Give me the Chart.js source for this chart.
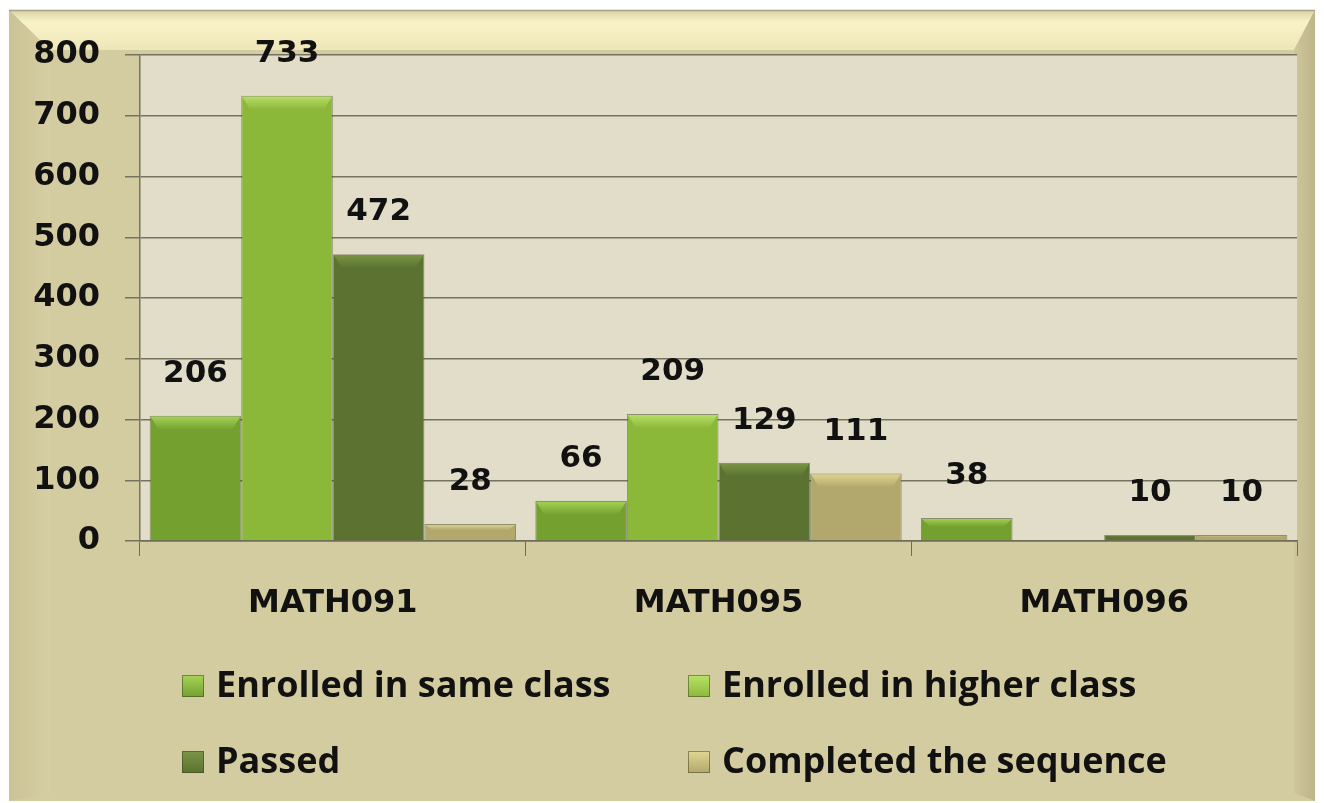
<!DOCTYPE html>
<html>
<head>
<meta charset="utf-8">
<script src="https://cdn.jsdelivr.net/npm/chart.js@4"></script>
<style>
  html, body { margin: 0; padding: 0; background: #ffffff; }
  #wrap { width: 1324px; height: 803px; position: relative; }
</style>
</head>
<body>
<div id="wrap"><canvas id="mathChart" width="1324" height="803"></canvas></div>
<script>
// chart data
const courses = ['MATH091', 'MATH095', 'MATH096'];
const sameClass = [206, 66, 38];
const higherClass = [733, 209, null];
const passed = [472, 129, 10];
const completed = [28, 111, 10];
const yTicks = [0, 100, 200, 300, 400, 500, 600, 700, 800];

const seriesNames = ['Enrolled in same class', 'Enrolled in higher class', 'Passed', 'Completed the sequence'];
const seriesColors = ['#74a030', '#8cb83a', '#5b7230', '#b2a76c'];
const seriesLight = ['#a6d456', '#b8e268', '#7a9646', '#e2d692'];

const NUM_FONT = '"DejaVu Sans", Verdana, sans-serif';
const LEGEND_FONT = '"Open Sans", Lato, sans-serif';

// frame + plot background
const backgroundPlugin = {
    id: 'frameBackground',
    beforeDraw(chart) {
        const ctx = chart.ctx;
        const W = chart.width, H = chart.height;
        const a = chart.chartArea;
        ctx.save();
        ctx.fillStyle = '#ffffff';
        ctx.fillRect(0, 0, W, H);
        // outer frame
        ctx.fillStyle = '#d4cca1';
        ctx.fillRect(9, 10, W - 18, H - 12);
        // top bevel
        let g = ctx.createLinearGradient(0, 10, 0, 50);
        g.addColorStop(0, '#d8d1a8');
        g.addColorStop(0.3, '#f9f3c8');
        g.addColorStop(1, '#ede6b8');
        ctx.fillStyle = g;
        ctx.beginPath();
        ctx.moveTo(9, 10); ctx.lineTo(W - 9, 10); ctx.lineTo(W - 30, 50); ctx.lineTo(50, 50);
        ctx.closePath(); ctx.fill();
        // left bevel
        g = ctx.createLinearGradient(9, 0, 50, 0);
        g.addColorStop(0, '#cbc295');
        g.addColorStop(1, '#d6cea4');
        ctx.fillStyle = g;
        ctx.beginPath();
        ctx.moveTo(9, 10); ctx.lineTo(50, 50); ctx.lineTo(50, H - 10); ctx.lineTo(9, H - 2);
        ctx.closePath(); ctx.fill();
        // right bevel
        g = ctx.createLinearGradient(W - 30, 0, W - 9, 0);
        g.addColorStop(0, '#cfc79c');
        g.addColorStop(1, '#bdb488');
        ctx.fillStyle = g;
        ctx.beginPath();
        ctx.moveTo(W - 9, 10); ctx.lineTo(W - 9, H - 2); ctx.lineTo(W - 30, H - 10); ctx.lineTo(W - 30, 50);
        ctx.closePath(); ctx.fill();
        // top line
        ctx.strokeStyle = '#a9a27e';
        ctx.lineWidth = 1.5;
        ctx.beginPath(); ctx.moveTo(9, 10.5); ctx.lineTo(W - 9, 10.5); ctx.stroke();
        // plot area
        ctx.fillStyle = '#e1ddc8';
        ctx.fillRect(a.left, a.top, a.right - a.left, a.bottom - a.top);
        ctx.restore();
    }
};

// bevel highlight on bars + value labels
const barDecorPlugin = {
    id: 'barDecor',
    afterDatasetsDraw(chart) {
        const ctx = chart.ctx;
        ctx.save();
        chart.data.datasets.forEach((ds, i) => {
            const meta = chart.getDatasetMeta(i);
            meta.data.forEach((bar, j) => {
                const v = ds.data[j];
                if (v === null || v === undefined) return;
                const half = bar.width / 2;
                const h = bar.base - bar.y;
                const band = Math.min(14, h * 0.4);
                if (band > 1) {
                    const g = ctx.createLinearGradient(0, bar.y, 0, bar.y + band);
                    g.addColorStop(0, seriesLight[i]);
                    g.addColorStop(1, seriesColors[i]);
                    ctx.fillStyle = g;
                    ctx.beginPath();
                    ctx.moveTo(bar.x - half + 1, bar.y + 1);
                    ctx.lineTo(bar.x + half - 1, bar.y + 1);
                    ctx.lineTo(bar.x + half - 9, bar.y + band);
                    ctx.lineTo(bar.x - half + 9, bar.y + band);
                    ctx.closePath();
                    ctx.fill();
                }
                ctx.fillStyle = '#111111';
                ctx.font = 'bold 31px ' + NUM_FONT;
                ctx.textAlign = 'center';
                ctx.textBaseline = 'middle';
                ctx.fillText(String(v), bar.x, bar.y - 42);
            });
        });
        ctx.restore();
    }
};

// two-column legend under the axis
const legendPlugin = {
    id: 'gridLegend',
    afterDraw(chart) {
        const ctx = chart.ctx;
        const colX = [182, 688];
        const rowY = [686, 762];
        ctx.save();
        ctx.font = 'bold 36px ' + LEGEND_FONT;
        ctx.textBaseline = 'middle';
        ctx.textAlign = 'left';
        seriesNames.forEach((name, i) => {
            const x = colX[i % 2];
            const y = rowY[Math.floor(i / 2)];
            const g = ctx.createLinearGradient(0, y - 11, 0, y + 11);
            g.addColorStop(0, seriesLight[i]);
            g.addColorStop(1, seriesColors[i]);
            ctx.fillStyle = g;
            ctx.fillRect(x, y - 11, 22, 22);
            ctx.strokeStyle = 'rgba(60,60,30,0.5)';
            ctx.lineWidth = 1;
            ctx.strokeRect(x + 0.5, y - 10.5, 21, 21);
            ctx.fillStyle = '#111111';
            ctx.fillText(name, x + 34, y + 1);
        });
        ctx.restore();
    }
};

function renderChart() {
    const ctx = document.getElementById('mathChart').getContext('2d');
    const values = [sameClass, higherClass, passed, completed];

    const data = {
        labels: courses,
        datasets: values.map((arr, i) => ({
            label: seriesNames[i],
            data: arr,
            backgroundColor: seriesColors[i],
            borderColor: 'rgba(70,80,40,0.55)',
            borderWidth: 1,
            categoryPercentage: 0.95,
            barPercentage: 1.0
        }))
    };

    new Chart(ctx, {
        type: 'bar',
        data: data,
        options: {
            responsive: false,
            animation: false,
            layout: { padding: { top: 55, left: 10, right: 27, bottom: 172 } },
            plugins: {
                legend: { display: false },
                tooltip: { enabled: false }
            },
            scales: {
                x: {
                    afterFit: s => { s.height = 90; },
                    grid: {
                        offset: true,
                        drawOnChartArea: false,
                        tickLength: 15,
                        color: '#6e6b5a'
                    },
                    border: { color: '#6e6b5a', width: 1.5 },
                    ticks: {
                        padding: 28,
                        color: '#111111',
                        font: { family: NUM_FONT, size: 32, weight: 'bold' }
                    }
                },
                y: {
                    min: 0,
                    max: 800,
                    afterFit: s => { s.width = 130; },
                    afterBuildTicks: s => { s.ticks = yTicks.map(v => ({ value: v })); },
                    grid: {
                        color: '#75725f',
                        lineWidth: 1.5,
                        tickLength: 15
                    },
                    border: { color: '#75725f', width: 1.5 },
                    ticks: {
                        padding: 25,
                        color: '#111111',
                        font: { family: NUM_FONT, size: 32, weight: 'bold' }
                    }
                }
            }
        },
        plugins: [backgroundPlugin, barDecorPlugin, legendPlugin]
    });
}

renderChart();
</script>
</body>
</html>
